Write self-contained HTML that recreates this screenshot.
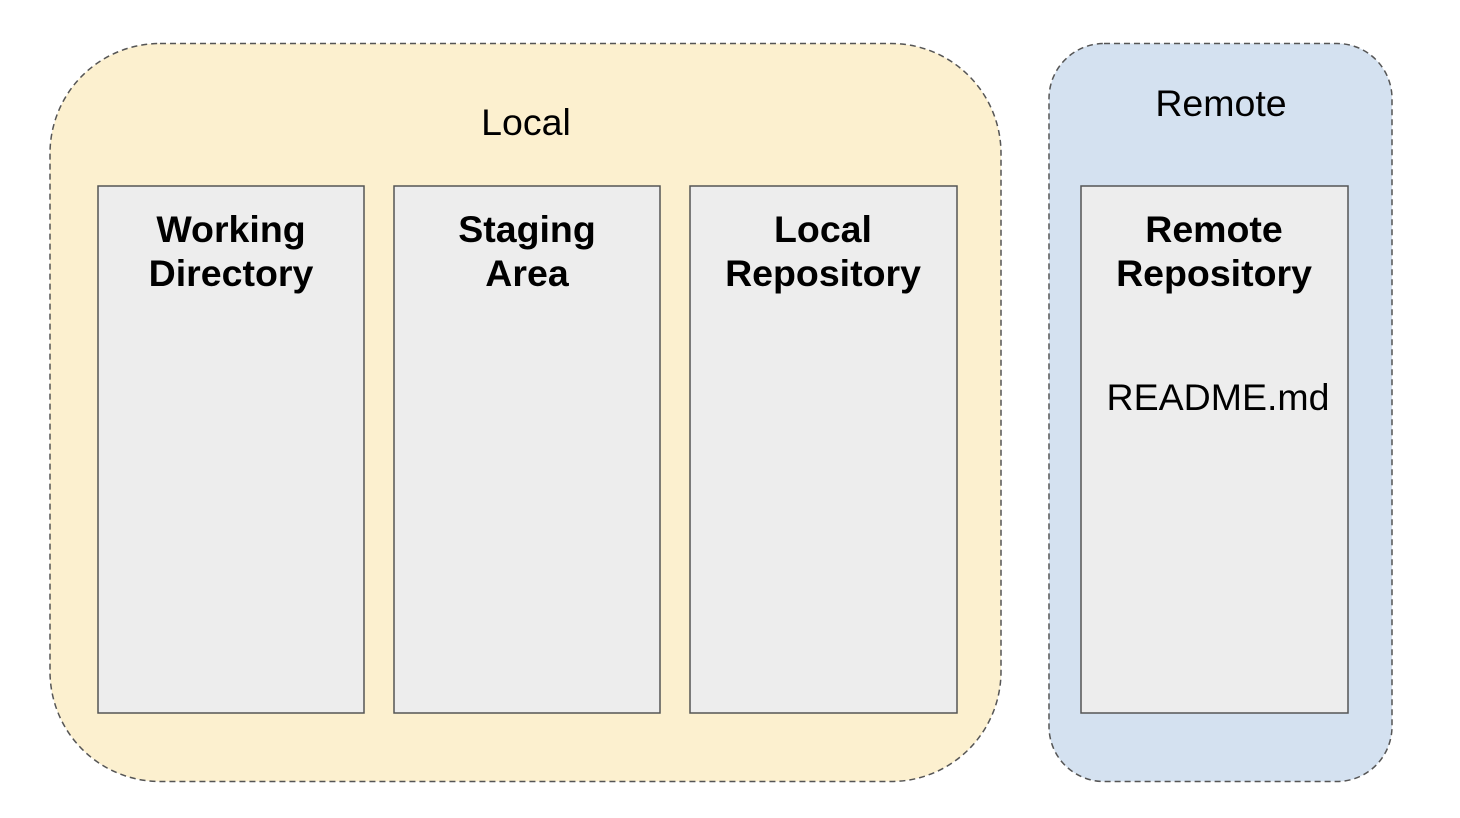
<!DOCTYPE html>
<html><head><style>
body{margin:0;width:1460px;height:818px;background:#fff;overflow:hidden;font-family:"Liberation Sans",sans-serif}
svg{position:absolute;left:0;top:0}
</style></head><body>
<svg width="1460" height="818" viewBox="0 0 1460 818">
<rect x="50" y="43.5" width="951" height="738" rx="110" fill="#fcf0cf" stroke="#555" stroke-width="1.5" stroke-dasharray="6,4"/>
<rect x="1049" y="43.5" width="343" height="738" rx="55" fill="#d4e1f0" stroke="#555" stroke-width="1.5" stroke-dasharray="6,4"/>
<g fill="#ededed" stroke="#555" stroke-width="1.5">
<rect x="98" y="186" width="266" height="527"/>
<rect x="394" y="186" width="266" height="527"/>
<rect x="690" y="186" width="267" height="527"/>
<rect x="1081" y="186" width="267" height="527"/>
</g>
<g font-family="Liberation Sans, sans-serif" font-size="37.5" text-anchor="middle" fill="#000">
<text x="526" y="135">Local</text>
<text x="1221" y="116">Remote</text>
<g font-weight="bold">
<text x="231" y="242">Working</text><text x="231" y="286">Directory</text>
<text x="527" y="242">Staging</text><text x="527" y="286">Area</text>
<text x="823" y="242">Local</text><text x="823" y="286">Repository</text>
<text x="1214" y="242">Remote</text><text x="1214" y="286">Repository</text>
</g>
<text x="1218" y="410">README.md</text>
</g>
</svg>
</body></html>
